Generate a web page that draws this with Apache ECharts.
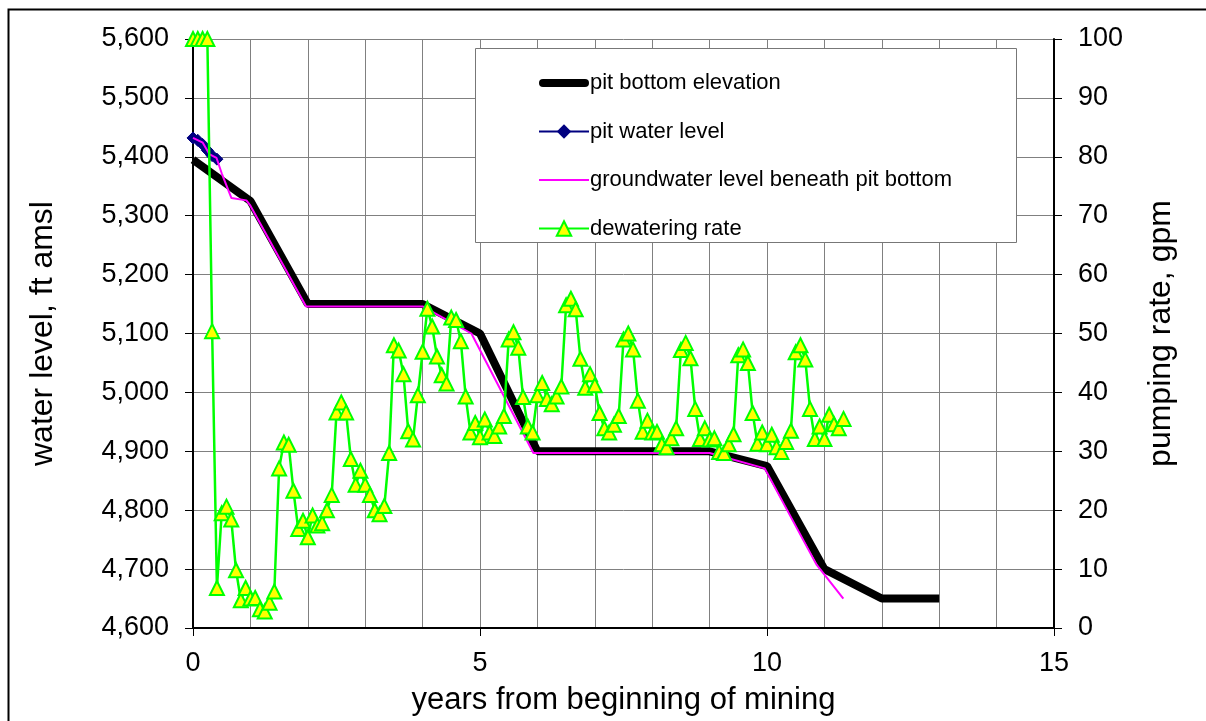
<!DOCTYPE html>
<html>
<head>
<meta charset="utf-8">
<script src="https://cdn.jsdelivr.net/npm/echarts@6/dist/echarts.min.js"></script>
<style>
html,body{margin:0;padding:0;background:#fff;}
#main{width:1206px;height:721px;}
</style>
</head>
<body>
<div id="main"></div>
<script>
// ---- data ----
const seriesNames = ['pit bottom elevation', 'pit water level', 'groundwater level beneath pit bottom', 'dewatering rate'];

// pit bottom elevation [years, ft amsl]
const pitBottomYears = [0, 1, 2, 4, 5, 6, 9, 10, 11, 12, 13];
const pitBottomElev  = [5395, 5325, 5150, 5150, 5100, 4900, 4900, 4875, 4700, 4650, 4650];

// pit water level [years, ft amsl]
const pitWaterYears = [0, 0.083, 0.167, 0.25, 0.333, 0.417];
const pitWaterElev  = [5432, 5428, 5421, 5411, 5402, 5396];

// groundwater level beneath pit bottom [years, ft amsl]
const gwYears = [0, 0.17, 0.29, 0.41, 0.5, 0.67, 0.93, 1.0, 1.97, 4.0, 4.85, 5.93, 9.0, 9.96, 10.86, 11.33];
const gwElev  = [5432, 5424, 5404, 5398, 5372, 5330, 5326, 5317, 5146, 5146, 5100, 4897, 4897, 4871, 4708, 4650];

// dewatering rate, gpm, monthly from month 0
const dewaterRate = [
  100, 100, 100, 100, 50.4, 6.8, 19.5, 20.6, 18.4, 9.8, 4.7, 6.8,
  5.0, 5.1, 3.2, 2.8, 4.3, 6.2, 27.1, 31.5, 31.1, 23.3, 16.8, 18.2,
  15.4, 19.1, 17.4, 17.8, 20.0, 22.6, 36.6, 38.3, 36.6, 28.7, 24.3, 26.7,
  24.3, 22.6, 20.0, 19.3, 20.7, 29.7, 48.0, 47.1, 43.1, 33.4, 32.0, 39.5,
  46.9, 54.2, 51.2, 46.1, 42.9, 41.5, 52.7, 52.3, 48.7, 39.3, 33.2, 34.8,
  32.4, 35.4, 33.2, 32.6, 34.2, 36.0, 49.0, 50.2, 47.6, 39.2, 34.2, 33.2,
  39.5, 41.6, 38.9, 38.0, 39.3, 41.0, 54.8, 55.9, 54.1, 45.7, 40.8, 43.1,
  41.2, 36.5, 33.9, 33.2, 34.5, 36.0, 49.0, 50.0, 47.3, 38.6, 33.3, 35.2,
  33.2, 33.3, 31.2, 30.7, 32.2, 33.9, 47.2, 48.4, 45.8, 37.2, 32.1, 33.9,
  32.0, 32.2, 29.9, 29.7, 31.2, 32.9, 46.3, 47.3, 45.0, 36.5, 31.3, 33.2,
  31.2, 32.8, 30.7, 29.9, 31.6, 33.5, 46.8, 48.0, 45.6, 37.2, 32.1, 34.2,
  32.1, 36.2, 34.6, 33.9, 35.5
];
const monthsPerYear = 12;

// axis settings
const xTicks = [0, 5, 10, 15];
const leftTicks = [4600, 5600, 100];
const rightTicks = [0, 100, 10];

const zip = (a, b) => a.map((v, i) => [v, b[i]]);
const dewaterData = dewaterRate.map((v, i) => [i / monthsPerYear, v]);

const FONT = 'Liberation Sans, Arial, sans-serif';
const grid = '#808080';

const chart = echarts.init(document.getElementById('main'), null, {renderer: 'canvas'});
chart.setOption({
  animation: false,
  backgroundColor: '#fff',
  textStyle: {fontFamily: FONT},
  graphic: [
    {type: 'rect', left: 6, top: 7, shape: {width: 1215, height: 730}, style: {fill: 'none', stroke: '#000', lineWidth: 2}, z: 1},
    {type: 'rect', left: 475, top: 48, shape: {width: 541, height: 194}, style: {fill: '#fff', stroke: '#777', lineWidth: 1}, z: 6}
  ],
  grid: {left: 193, right: 152, top: 39, bottom: 92, containLabel: false},
  legend: {
    orient: 'vertical',
    left: 538, top: 72,
    padding: 0,
    itemWidth: 50, itemHeight: 18, itemGap: 26.5,
    textStyle: {fontSize: 22, color: '#000', fontFamily: FONT, padding: [0, 0, 0, -4]},
    data: [
      {name: seriesNames[0], icon: 'path://M0,0M50,18M4,5H46A4,4,0,0,1,46,13H4A4,4,0,0,1,4,5Z'},
      {name: seriesNames[1]},
      {name: seriesNames[2], icon: 'path://M0,0M50,18M0,8H50V10H0Z'},
      {name: seriesNames[3]}
    ],
    z: 7
  },
  xAxis: {
    type: 'value', min: xTicks[0], max: xTicks[xTicks.length - 1], interval: xTicks[1] - xTicks[0],
    name: 'years from beginning of mining', nameLocation: 'middle', nameGap: 57,
    nameTextStyle: {fontSize: 31, color: '#000', fontFamily: FONT},
    axisLine: {show: true, lineStyle: {color: '#000', width: 2}},
    axisTick: {show: true, length: 8, lineStyle: {color: '#000'}},
    axisLabel: {fontSize: 27, color: '#000', margin: 22, fontFamily: FONT},
    splitLine: {show: true, lineStyle: {color: grid, width: 1}},
    minorTick: {show: false, splitNumber: 5},
    minorSplitLine: {show: true, lineStyle: {color: grid, width: 1}}
  },
  yAxis: [
    {
      type: 'value', min: leftTicks[0], max: leftTicks[1], interval: leftTicks[2],
      name: 'water level, ft amsl', nameLocation: 'middle', nameGap: 134, nameRotate: 90,
      nameTextStyle: {fontSize: 32, color: '#000', fontFamily: FONT},
      axisLine: {show: true, lineStyle: {color: '#000', width: 2}},
      axisTick: {show: true, length: 8, lineStyle: {color: '#000'}},
      axisLabel: {fontSize: 27, color: '#000', margin: 24, fontFamily: FONT,
        formatter: v => v.toLocaleString('en-US')},
      splitLine: {show: true, lineStyle: {color: grid, width: 1}}
    },
    {
      type: 'value', min: rightTicks[0], max: rightTicks[1], interval: rightTicks[2],
      name: 'pumping rate, gpm', nameLocation: 'middle', nameGap: 91, nameRotate: 90,
      nameTextStyle: {fontSize: 32, color: '#000', fontFamily: FONT},
      axisLine: {show: true, lineStyle: {color: '#000', width: 2}},
      axisTick: {show: true, length: 8, lineStyle: {color: '#000'}},
      axisLabel: {fontSize: 27, color: '#000', margin: 24, fontFamily: FONT},
      splitLine: {show: false}
    }
  ],
  series: [
    {
      name: seriesNames[0], type: 'line', yAxisIndex: 0, data: zip(pitBottomYears, pitBottomElev),
      symbol: 'none', lineStyle: {color: '#000', width: 8}, itemStyle: {color: '#000'}, z: 2
    },
    {
      name: seriesNames[1], type: 'line', yAxisIndex: 0, data: zip(pitWaterYears, pitWaterElev),
      symbol: 'diamond', symbolSize: 12,
      lineStyle: {color: '#000080', width: 2},
      itemStyle: {color: '#000080', borderColor: '#000080'}, z: 3
    },
    {
      name: seriesNames[2], type: 'line', yAxisIndex: 0, data: zip(gwYears, gwElev),
      symbol: 'none', lineStyle: {color: '#FF00FF', width: 2}, itemStyle: {color: '#FF00FF'}, z: 4
    },
    {
      name: seriesNames[3], type: 'line', yAxisIndex: 1, data: dewaterData,
      symbol: 'triangle', symbolSize: 14,
      lineStyle: {color: '#00FF00', width: 2.5},
      itemStyle: {color: '#FFFF00', borderColor: '#00FF00', borderWidth: 2}, z: 5
    }
  ]
});
</script>
</body>
</html>
